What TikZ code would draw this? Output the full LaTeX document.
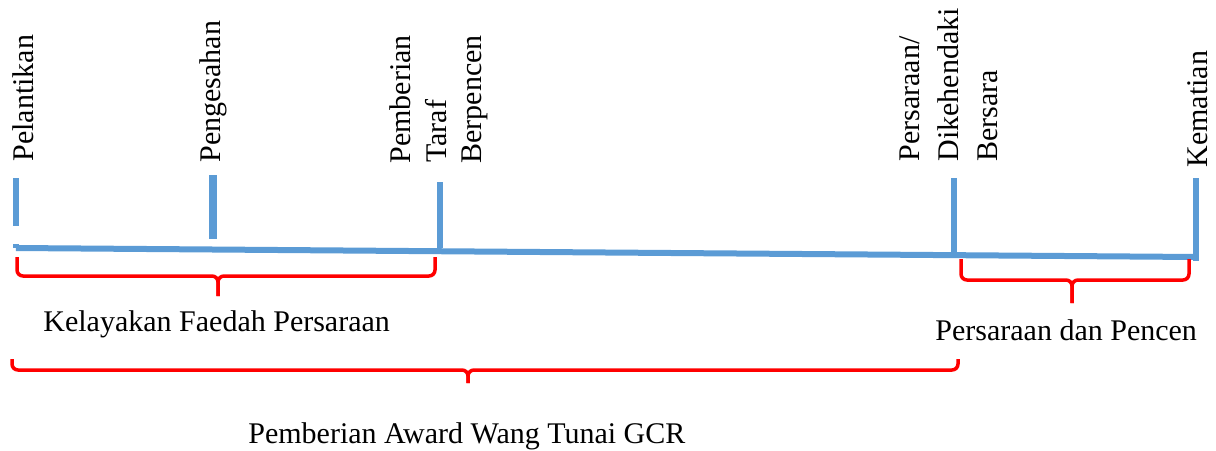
\documentclass[tikz,border=0pt]{standalone}
\usepackage{fontspec}
\setmainfont{Liberation Serif}
\usepackage{tikz}
\definecolor{lineblue}{HTML}{5B9BD5}
\tikzset{
  timeline/.style={draw=lineblue, line width=3pt},
  eventtick/.style={draw=lineblue, line width=3pt},
  event/.style={rotate=90, anchor=base west, inner sep=0pt, font=\fontsize{15}{18}\selectfont},
  phase/.style={anchor=base west, inner sep=0pt, font=\fontsize{15}{18}\selectfont},
  bracket/.style={draw=red, line width=1.75pt, rounded corners=3pt},
}

\begin{document}
\begin{tikzpicture}[x=0.5pt,y=-0.5pt]
  \useasboundingbox (0,0) rectangle (1216,450);

  % Timeline
  \coordinate (start) at (16,248);
  \coordinate (end)   at (1196,257);
  \draw[timeline] (start) -- (end);

  % Ticks
  \coordinate (t1a) at (16,178);   \coordinate (t1b) at (16,226);
  \coordinate (t2a) at (213,175);  \coordinate (t2b) at (213,239);
  \coordinate (t3a) at (440,182);  \coordinate (t3b) at (440,248);
  \coordinate (t4a) at (954,178);  \coordinate (t4b) at (954,257);
  \coordinate (t5a) at (1196,178); \coordinate (t5b) at (1196,261);
  \draw[eventtick] (t1a) -- (t1b);
  \draw[eventtick] (16,244) -- (start);
  \draw[eventtick, line width=4pt] (t2a) -- (t2b);
  \draw[eventtick] (t3a) -- (t3b);
  \draw[eventtick] (t4a) -- (t4b);
  \draw[eventtick] (t5a) -- (t5b);

  % Events
  \node[event] (pelantikan)  at (33,162)   {Pelantikan};
  \node[event] (pengesahan)  at (220,163)  {Pengesahan};
  \node[event] (pemberian)   at (410,164)  {Pemberian};
  \node[event] (taraf)       at (446,163)  {Taraf};
  \node[event] (berpencen)   at (481,164)  {Berpencen};
  \node[event] (persaraan)   at (919,162)  {Persaraan/};
  \node[event] (dikehendaki) at (958,162)  {Dikehendaki};
  \node[event] (bersara)     at (997,162)  {Bersara};
  \node[event] (kematian)    at (1207,168) {Kematian};

  % Braces
  \coordinate (b1l) at (17,257);  \coordinate (b1r) at (435,257);
  \coordinate (b1m) at (218,276); \coordinate (b1t) at (218,296);
  \draw[bracket] (b1l) |- (b1m) -- (b1t);
  \draw[bracket] (b1r) |- (b1m) -- (b1t);

  \coordinate (b2l) at (961,259);  \coordinate (b2r) at (1189,259);
  \coordinate (b2m) at (1072,280); \coordinate (b2t) at (1072,303);
  \draw[bracket] (b2l) |- (b2m) -- (b2t);
  \draw[bracket] (b2r) |- (b2m) -- (b2t);

  \coordinate (b3l) at (12,359);  \coordinate (b3r) at (958,359);
  \coordinate (b3m) at (468,370); \coordinate (b3t) at (468,383);
  \draw[bracket] (b3l) |- (b3m) -- (b3t);
  \draw[bracket] (b3r) |- (b3m) -- (b3t);

  % Phases
  \node[phase] (kelayakan) at (43,331)  {Kelayakan Faedah Persaraan};
  \node[phase] (pencen)    at (935,340) {Persaraan dan Pencen};
  \node[phase] (award)     at (248,443) {Pemberian Award Wang Tunai GCR};

\end{tikzpicture}
\end{document}
